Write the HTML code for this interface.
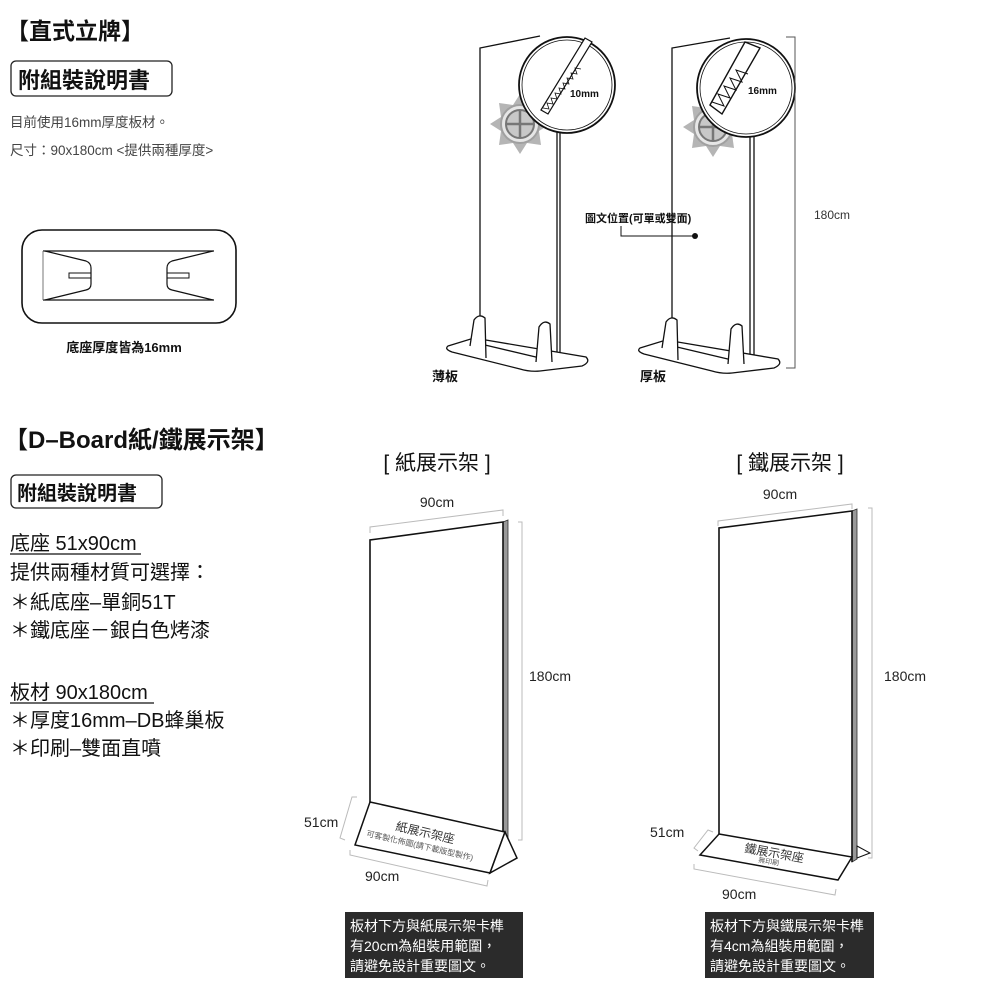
<!DOCTYPE html>
<html><head><meta charset="utf-8"><style>
html,body{margin:0;padding:0;background:#fff;}
svg{display:block;font-family:"Liberation Sans","Noto Sans CJK TC",sans-serif;}
</style></head><body>
<svg width="1000" height="1002" viewBox="0 0 1000 1002" xmlns="http://www.w3.org/2000/svg">
<defs>
<g id="gear">
<polygon points="0,-30 7,-19 21,-21 19,-7 30,0 19,7 21,21 7,19 0,30 -7,19 -21,21 -19,7 -30,0 -19,-7 -21,-21 -7,-19" fill="#b5b5b5"/>
<circle r="19" fill="#e6e6e6" stroke="#a0a0a0" stroke-width="2"/>
<circle r="14" fill="#c8c8c8" stroke="#777" stroke-width="2"/>
<line x1="-14" y1="0" x2="14" y2="0" stroke="#777" stroke-width="2.5"/><line x1="0" y1="-14" x2="0" y2="14" stroke="#777" stroke-width="2.5"/>
</g>
</defs>
<!-- Top-left section -->
<text x="6" y="39" font-size="23" font-weight="bold" fill="#111">【直式立牌】</text>
<rect x="11" y="61" width="161" height="35" rx="5" fill="none" stroke="#222" stroke-width="1.3"/>
<text x="18" y="88" font-size="22" font-weight="bold" fill="#111">附組裝說明書</text>
<text x="10" y="127" font-size="13.5" fill="#444">目前使用16mm厚度板材。</text>
<text x="10" y="155" font-size="13.5" fill="#444">尺寸：90x180cm &lt;提供兩種厚度&gt;</text>
<rect x="22" y="230" width="214" height="93" rx="20" fill="none" stroke="#111" stroke-width="1.6"/>
<line x1="43" y1="251" x2="214" y2="251" stroke="#111" stroke-width="1.2"/>
<line x1="43" y1="300" x2="214" y2="300" stroke="#111" stroke-width="1.2"/>
<line x1="43" y1="251" x2="43" y2="300" stroke="#777" stroke-width="1"/>
<path d="M45 251 L86 261 Q91 263 91 268 L91 284 Q91 289 86 290 L45 300" fill="none" stroke="#111" stroke-width="1.2"/>
<path d="M213 251 L172 261 Q167 263 167 268 L167 284 Q167 289 172 290 L213 300" fill="none" stroke="#111" stroke-width="1.2"/>
<rect x="69" y="273" width="22" height="5" fill="none" stroke="#111"/>
<rect x="167" y="273" width="22" height="5" fill="none" stroke="#111"/>
<text x="124" y="352" font-size="13" font-weight="bold" text-anchor="middle" fill="#111">底座厚度皆為16mm</text>

<!-- Thin board -->
<g fill="none" stroke="#111" stroke-width="1.3">
<path d="M480 342 L480 48 L540 36"/>
<line x1="557" y1="125" x2="557" y2="355"/>
<line x1="560" y1="125" x2="560" y2="355"/>
<path d="M448 346 L474 338 L586 357 Q591 362 582 366 L540 371 Q530 372 520 369 L452 352 Q444 349 448 346 Z" fill="#fff"/>
<line x1="485" y1="345" x2="540" y2="358"/>
<path d="M470 346 L474 320 Q479 313 485 318 L486 358" fill="#fff"/>
<path d="M536 362 L539 327 Q544 319 550 324 L552 362" fill="#fff"/>
</g>
<use href="#gear" x="520" y="124"/>
<circle cx="567" cy="85" r="48" fill="#fff" stroke="#111" stroke-width="1.8"/>
<circle cx="567" cy="85" r="45" fill="none" stroke="#111" stroke-width="0.8"/>
<path d="M541 110 L585 38 L592 42 L548 114 Z" fill="#fff" stroke="#111" stroke-width="1.2"/>
<path d="M543 108 l6 1 l-2 -6 l6 1 l-2 -6 l6 1 l-2 -6 l6 1 l-2 -6 l6 1 l-2 -6 l6 1 l-2 -6 l6 1 l-2 -6 l6 1 l-2 -6 l6 1" fill="none" stroke="#111" stroke-width="0.8"/>
<text x="570" y="97" font-size="10" font-weight="bold" fill="#111">10mm</text>
<text x="432" y="381" font-size="13" font-weight="bold" fill="#111">薄板</text>

<!-- Thick board -->
<g fill="none" stroke="#111" stroke-width="1.3">
<path d="M672 344 L672 48 L730 38"/>
<line x1="750" y1="128" x2="750" y2="357"/>
<line x1="754" y1="128" x2="754" y2="357"/>
<path d="M640 348 L666 340 L778 359 Q783 364 774 368 L732 373 Q722 374 712 371 L644 354 Q636 351 640 348 Z" fill="#fff"/>
<line x1="677" y1="347" x2="732" y2="360"/>
<path d="M662 348 L666 322 Q671 315 677 320 L678 360" fill="#fff"/>
<path d="M728 364 L731 329 Q736 321 742 326 L744 364" fill="#fff"/>
</g>
<use href="#gear" x="713" y="127"/>
<circle cx="746" cy="88" r="49" fill="#fff" stroke="#111" stroke-width="1.8"/>
<circle cx="746" cy="88" r="46" fill="none" stroke="#111" stroke-width="0.8"/>
<path d="M710 105 L745 42 L760 48 L722 114 Z" fill="#fff" stroke="#111" stroke-width="1.4"/>
<path d="M712 102 l12 4 l-6 -12 l12 4 l-6 -12 l12 4 l-6 -12 l12 4 l-6 -12 l12 4" fill="none" stroke="#111" stroke-width="1"/>
<text x="748" y="94" font-size="10" font-weight="bold" fill="#111">16mm</text>
<text x="640" y="381" font-size="13" font-weight="bold" fill="#111">厚板</text>

<path d="M786 37 L795 37 L795 368 L786 368" fill="none" stroke="#555" stroke-width="1"/>
<text x="814" y="219" font-size="12" fill="#333">180cm</text>
<text x="585" y="222" font-size="11" font-weight="bold" fill="#111">圖文位置(可單或雙面)</text>
<path d="M621 226 L621 236 L694 236" fill="none" stroke="#111" stroke-width="1"/>
<circle cx="695" cy="236" r="3" fill="#111"/>

<!-- Bottom-left section -->
<text x="4" y="448" font-size="24" font-weight="bold" fill="#111">【D–Board紙/鐵展示架】</text>
<rect x="11" y="475" width="151" height="33" rx="5" fill="none" stroke="#222" stroke-width="1.3"/>
<text x="17" y="500" font-size="20" font-weight="bold" fill="#111">附組裝說明書</text>
<g font-size="20" fill="#111">
<text x="10" y="550">底座 51x90cm</text>
<line x1="10" y1="554" x2="141" y2="554" stroke="#111" stroke-width="1.2"/>
<text x="10" y="579">提供兩種材質可選擇：</text>
<text x="10" y="609">＊紙底座–單銅51T</text>
<text x="10" y="637">＊鐵底座－銀白色烤漆</text>
<text x="10" y="699">板材 90x180cm</text>
<line x1="10" y1="703" x2="154" y2="703" stroke="#111" stroke-width="1.2"/>
<text x="10" y="727">＊厚度16mm–DB蜂巢板</text>
<text x="10" y="755">＊印刷–雙面直噴</text>
</g>

<!-- Paper stand -->
<text x="437" y="470" font-size="21" text-anchor="middle" fill="#111">[ 紙展示架 ]</text>
<text x="437" y="507" font-size="14" text-anchor="middle" fill="#222">90cm</text>
<path d="M370 533 L370 527 L503 510 L503 516" fill="none" stroke="#bbb" stroke-width="1"/>
<polygon points="503,522 508,520 508,842 503,845" fill="#999" stroke="#333" stroke-width="0.8"/>
<path d="M370 802 L370 540 L503 522 L503 843" fill="#fff" stroke="#111" stroke-width="1.6"/>
<path d="M518 522 L522 522 L522 840 L518 840" fill="none" stroke="#bbb"/>
<text x="529" y="681" font-size="14" fill="#222">180cm</text>
<polygon points="370,802 505,832 490,873 355,845" fill="#fff" stroke="#111" stroke-width="1.5"/>
<polygon points="505,832 517,858 490,873" fill="#fff" stroke="#111" stroke-width="1.5"/>
<path d="M357 797 L352 797 L340 838 L345 840" fill="none" stroke="#bbb"/>
<path d="M350 850 L350 855 L487 886 L488 880" fill="none" stroke="#bbb"/>
<text x="304" y="827" font-size="14" fill="#222">51cm</text>
<text x="365" y="881" font-size="14" fill="#222">90cm</text>
<text x="395" y="830" font-size="12" fill="#333" transform="rotate(13 395 830)">紙展示架座</text>
<text x="366" y="836" font-size="8" fill="#555" transform="rotate(13 366 836)">可客製化佈圖(請下載版型製作)</text>
<rect x="345" y="912" width="178" height="66" fill="#2b2b2b"/>
<g font-size="14" fill="#fff"><text x="350" y="931">板材下方與紙展示架卡榫</text><text x="350" y="951">有20cm為組裝用範圍，</text><text x="350" y="971">請避免設計重要圖文。</text></g>

<!-- Iron stand -->
<text x="790" y="470" font-size="21" text-anchor="middle" fill="#111">[ 鐵展示架 ]</text>
<text x="780" y="499" font-size="14" text-anchor="middle" fill="#222">90cm</text>
<path d="M718 526 L718 521 L852 504 L852 509" fill="none" stroke="#bbb" stroke-width="1"/>
<polygon points="852,511 857,509 857,859 852,862" fill="#999" stroke="#333" stroke-width="0.8"/>
<path d="M719 834 L719 528 L852 511 L852 862" fill="#fff" stroke="#111" stroke-width="1.6"/>
<path d="M868 508 L872 508 L872 858 L868 858" fill="none" stroke="#bbb"/>
<text x="884" y="681" font-size="14" fill="#222">180cm</text>
<polygon points="719,834 852,857 838,880 700,855" fill="#fff" stroke="#111" stroke-width="1.5"/>
<polygon points="857,846 870,853 857,858" fill="#fff" stroke="#111" stroke-width="1"/>
<path d="M713 832 L708 830 L694 848 L698 851" fill="none" stroke="#bbb"/>
<path d="M694 864 L694 869 L835 895 L836 889" fill="none" stroke="#bbb"/>
<text x="650" y="837" font-size="14" fill="#222">51cm</text>
<text x="722" y="899" font-size="14" fill="#222">90cm</text>
<text x="744" y="852" font-size="12" fill="#333" transform="rotate(10 744 852)">鐵展示架座</text>
<text x="758" y="862" font-size="7" fill="#555" transform="rotate(10 758 862)">無印刷</text>
<rect x="705" y="912" width="169" height="66" fill="#2b2b2b"/>
<g font-size="14" fill="#fff"><text x="710" y="931">板材下方與鐵展示架卡榫</text><text x="710" y="951">有4cm為組裝用範圍，</text><text x="710" y="971">請避免設計重要圖文。</text></g>
</svg>
</body></html>
